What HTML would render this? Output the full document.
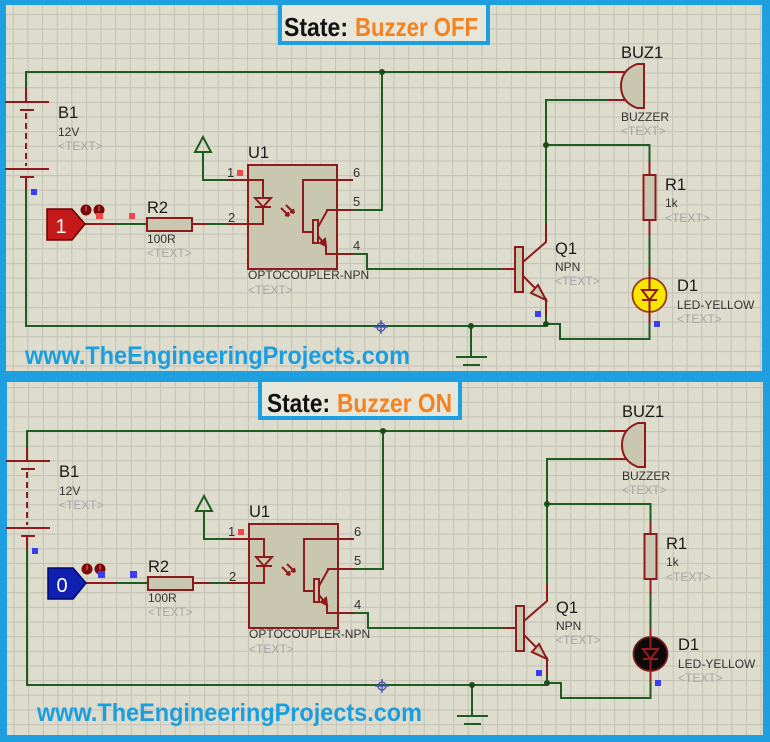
<!DOCTYPE html>
<html>
<head>
<meta charset="utf-8">
<style>
html,body{margin:0;padding:0;background:#1ea0e0;}
svg{display:block;}
text{font-family:"Liberation Sans",Arial,sans-serif;}
</style>
</head>
<body>
<svg width="770" height="742" viewBox="0 0 770 742" xmlns="http://www.w3.org/2000/svg">
<defs>
<pattern id="g1" x="12.7" y="72.5" width="14.65" height="14.65" patternUnits="userSpaceOnUse">
<rect width="14.65" height="14.65" fill="#dddccd"/>
<path d="M0.5,0 V14.65 M0,0.5 H14.65" stroke="#c3c3b8" stroke-width="1.1"/>
</pattern>
<pattern id="g2" x="13.5" y="431" width="14.65" height="14.65" patternUnits="userSpaceOnUse">
<rect width="14.65" height="14.65" fill="#dddccd"/>
<path d="M0.5,0 V14.65 M0,0.5 H14.65" stroke="#c3c3b8" stroke-width="1.1"/>
</pattern>

<g id="circ">
<!-- green wires -->
<g fill="none" stroke="#1f5c1f" stroke-width="2">
<path d="M26,90 V72 H608"/>
<path d="M382,72 V210 H353"/>
<path d="M608,100 H546 V224"/>
<path d="M546,145 H649.5 V162"/>
<path d="M649.5,235 V268"/>
<path d="M26,190 V326 H546"/>
<path d="M546,316 V324"/>
<path d="M649.5,323 V339 H560 V324 H546"/>
<path d="M471,326 V357"/>
<path d="M456,357 H487"/>
<path d="M463,365 H480"/>
<path d="M353,254 H367 V269 H502"/>
<path d="M227,180 H203 V152"/>
<path d="M195,152 L203,137 L211,152 Z"/>
<path d="M115,224 H147"/>
<path d="M208,224 H227"/>
</g>
<g fill="#1a4a1a">
<circle cx="382" cy="72" r="3"/>
<circle cx="546" cy="145" r="3"/>
<circle cx="471" cy="326" r="3"/>
<circle cx="546" cy="324" r="3"/>
</g>
<!-- red components -->
<g fill="none" stroke="#8e1b1b" stroke-width="2">
<!-- battery -->
<path d="M26,88 V102 M5,102 H49 M20,110 H34 M5,169 H49 M20,177 H34 M26,177 V190"/>
<path d="M26,113 V166" stroke-dasharray="6,4"/>
<!-- buzzer -->
<path d="M608,72 H630 M608,100 H630"/>
<path d="M644,64 L637,64 Q621,70 621,86 Q621,102 637,108 L644,108 Z" fill="#c9c7b0"/>
<!-- Q1 -->
<path d="M546,224 V242 L523,262"/>
<path d="M523,276 L546,299 V316"/>
<path d="M531,293 L538,285 L546,300 Z" fill="#c9c7b0"/>
<path d="M502,269 H515"/>
<rect x="515" y="247" width="8" height="45" fill="#c9c7b0"/>
<!-- R1 -->
<path d="M649.5,162 V175 M649.5,220 V235"/>
<rect x="643.5" y="175" width="12" height="45" fill="#c9c7b0"/>
<!-- probe wire, R2 -->
<path d="M85,224 H115"/>
<rect x="147" y="218" width="45" height="13" fill="#c9c7b0"/>
<path d="M192,224 H208 M227,224 H248 M227,180 H248"/>
<!-- opto -->
<rect x="248" y="165" width="89" height="104" fill="#c9c7b0"/>
<path d="M248,180 H263 V198 M263,207 V224 H248"/>
<path d="M255,198 H271 L263,207 Z M255,207 H271"/>
<path d="M281,208 L289,216 M286,205 L294,213"/>
<path d="M289,216 L285,215 M289,216 L288,212 M294,213 L290,212 M294,213 L293,209"/>
<path d="M337,180 H353 M337,180 H303 V232 H313"/>
<rect x="313" y="220" width="5" height="23" fill="#c9c7b0"/>
<path d="M318,227 L327,211 V210 H353"/>
<path d="M318,236 L326,246 V254 H353"/>
<path d="M320,243 L326,246 L325,239 Z" fill="#8e1b1b"/>
</g>
<!-- texts -->
<g font-size="16.5" fill="#1a1a1a">
<text x="58" y="118">B1</text>
<text x="147" y="213">R2</text>
<text x="248" y="158">U1</text>
<text x="555" y="254">Q1</text>
<text x="621" y="58">BUZ1</text>
<text x="665" y="190">R1</text>
<text x="677" y="291">D1</text>
</g>
<g font-size="12" fill="#333">
<text x="58" y="136">12V</text>
<text x="147" y="243">100R</text>
<text x="248" y="279">OPTOCOUPLER-NPN</text>
<text x="555" y="271">NPN</text>
<text x="621" y="121">BUZZER</text>
<text x="665" y="207">1k</text>
<text x="677" y="309">LED-YELLOW</text>
</g>
<g font-size="12" fill="#a5a5a5">
<text x="58" y="150">&lt;TEXT&gt;</text>
<text x="147" y="257">&lt;TEXT&gt;</text>
<text x="248" y="294">&lt;TEXT&gt;</text>
<text x="555" y="285">&lt;TEXT&gt;</text>
<text x="621" y="135">&lt;TEXT&gt;</text>
<text x="665" y="222">&lt;TEXT&gt;</text>
<text x="677" y="323">&lt;TEXT&gt;</text>
</g>
<g font-size="13" fill="#333">
<text x="227" y="177">1</text>
<text x="228" y="222">2</text>
<text x="353" y="177">6</text>
<text x="353" y="206">5</text>
<text x="353" y="250">4</text>
</g>
<!-- markers -->
<rect x="237" y="170" width="6" height="6" fill="#f04848"/>
<rect x="31" y="189" width="6" height="6" fill="#3c3cf0"/>
<rect x="535" y="311" width="6" height="6" fill="#3c3cf0"/>
<rect x="654" y="321" width="6" height="6" fill="#3c3cf0"/>
<g fill="none" stroke="#4050b0" stroke-width="1.3">
<circle cx="381" cy="327" r="4"/>
<path d="M374,327 H388 M381,320 V334"/>
</g>
<!-- probe indicator circles -->
<circle cx="86" cy="210" r="5.5" fill="#7a0a0a"/>
<circle cx="99" cy="210" r="5.5" fill="#7a0a0a"/>
<path d="M86,206 V211 M99,206 V211" stroke="#d06060" stroke-width="1.2"/>
</g>
</defs>

<!-- frame -->
<rect x="0" y="0" width="770" height="742" fill="#1ea0e0"/>
<rect x="6" y="5" width="756" height="366" fill="url(#g1)"/>
<rect x="7" y="382" width="756" height="353" fill="url(#g2)"/>

<!-- TOP PANEL -->
<use href="#circ"/>
<!-- probe 1 -->
<polygon points="47,209 72,209 85,224 72,240 47,240" fill="#c41a1a" stroke="#6e0000" stroke-width="1.5"/>
<text x="61" y="233" font-size="20" fill="#fff" text-anchor="middle">1</text>
<rect x="96" y="213" width="7" height="6" fill="#f04848"/>
<rect x="129" y="213" width="6" height="6" fill="#f04848"/>
<!-- LED yellow -->
<circle cx="649.5" cy="295" r="17" fill="#f7e600" stroke="#9a3a1a" stroke-width="1.8"/>
<g fill="none" stroke="#8e1b1b" stroke-width="2">
<path d="M649.5,268 V290 M649.5,300 V323"/>
<path d="M642,290 H657 L649.5,300 Z M642,300 H657"/>
</g>
<!-- title -->
<rect x="280" y="3" width="208" height="40" fill="#e6e6da" stroke="#1ea0e0" stroke-width="4"/>
<text x="284" y="36" font-size="26" font-weight="bold" fill="#111" textLength="64" lengthAdjust="spacingAndGlyphs">State:</text>
<text x="355" y="36" font-size="26" font-weight="bold" fill="#f58220" textLength="123" lengthAdjust="spacingAndGlyphs">Buzzer OFF</text>
<text x="25" y="364" font-size="25" font-weight="bold" fill="#1a9ee0" textLength="385" lengthAdjust="spacingAndGlyphs">www.TheEngineeringProjects.com</text>

<!-- BOTTOM PANEL -->
<g transform="translate(1,359)">
<use href="#circ"/>
<polygon points="47,209 72,209 85,224 72,240 47,240" fill="#1020b0" stroke="#000870" stroke-width="1.5"/>
<text x="61" y="233" font-size="20" fill="#fff" text-anchor="middle">0</text>
<rect x="97" y="212" width="7" height="7" fill="#3c3cf0"/>
<rect x="129" y="212" width="7" height="7" fill="#3c3cf0"/>
<circle cx="649.5" cy="295" r="17" fill="#0a0a0a" stroke="#7a1a1a" stroke-width="1.8"/>
<g fill="none" stroke="#9a1b1b" stroke-width="2">
<path d="M649.5,268 V290 M649.5,300 V323"/>
<path d="M642,290 H657 L649.5,300 Z M642,300 H657"/>
</g>
</g>
<rect x="260" y="380" width="200" height="38" fill="#e6e6da" stroke="#1ea0e0" stroke-width="4"/>
<text x="267" y="412" font-size="26" font-weight="bold" fill="#111" textLength="63" lengthAdjust="spacingAndGlyphs">State:</text>
<text x="337" y="412" font-size="26" font-weight="bold" fill="#f58220" textLength="115" lengthAdjust="spacingAndGlyphs">Buzzer ON</text>
<text x="37" y="721" font-size="25" font-weight="bold" fill="#1a9ee0" textLength="385" lengthAdjust="spacingAndGlyphs">www.TheEngineeringProjects.com</text>
</svg>
</body>
</html>
